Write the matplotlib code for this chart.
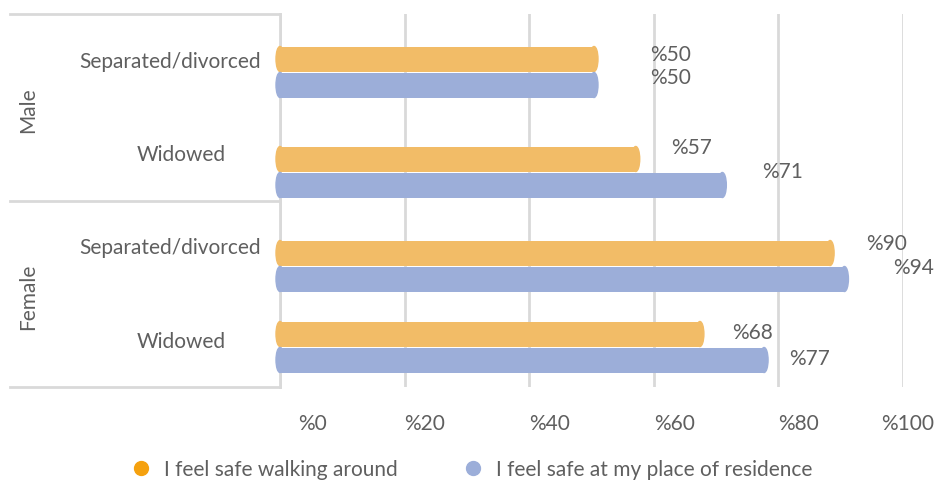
import numpy as np
import matplotlib.pyplot as plt
from matplotlib.patches import Ellipse
from matplotlib.lines import Line2D
from matplotlib.transforms import ScaledTranslation

# categories, top to bottom
groups = ['Male', 'Female']
categories = ['Separated/divorced', 'Widowed', 'Separated/divorced', 'Widowed']
series = ['I feel safe walking around', 'I feel safe at my place of residence']

# bar lengths as drawn, and the labels printed next to them
walking = [50.4, 57.1, 88.3, 67.4]
residence = [50.4, 71.0, 90.6, 77.7]
walking_labels = ['%50', '%57', '%90', '%68']
residence_labels = ['%50', '%71', '%94', '%77']
xticks = [0, 20, 40, 60, 80, 100]
xtick_labels = ['%0', '%20', '%40', '%60', '%80', '%100']

# layout (pixels of the 934x485 picture)
W, H = 934, 485
ax_l, ax_r, ax_t, ax_b = 280, 903, 15, 388
pair_y = [73, 173, 267, 348]
cat_label_x = [170, 181, 170, 181]
cat_label_y = [62, 155, 248, 342]
group_label_y = [110, 297]
walk_dx = [56, 35, 36, 32]
walk_dy = [5, 12, 10, 2]
res_dx = [56, 40, 49, 25]
res_dy = [8, 14, 12, 2]

c_walk = '#F2BC67'
c_res = '#9CAED9'
c_grid = '#D9D9D9'
c_text = '#5f5f5f'
fs = 15

plt.rcParams['font.family'] = ['Lato', 'DejaVu Sans']

fig = plt.figure(figsize=(W / 100, H / 100), dpi=100)
ax = fig.add_axes([ax_l / W, 1 - ax_b / H, (ax_r - ax_l) / W, (ax_b - ax_t) / H])
ax.set_xlim(0, 100)
ax.set_ylim(ax_b, ax_t)

bh = 25
cap_w = 8 / ((ax_r - ax_l) / 100)
for vals, off, col in [(walking, -13, c_walk), (residence, 13, c_res)]:
    ys = np.array(pair_y) + off
    ax.barh(ys, vals, height=bh, color=col, zorder=3)
    for v, y in zip(vals, ys):
        ax.add_patch(Ellipse((0, y), cap_w, bh, color=col, zorder=3, clip_on=False))
        ax.add_patch(Ellipse((v, y), cap_w, bh, color=col, zorder=3, clip_on=False))

for vals, labs, dxs, dys, off in [(walking, walking_labels, walk_dx, walk_dy, -13),
                                  (residence, residence_labels, res_dx, res_dy, 13)]:
    for v, lab, dx, dy, y in zip(vals, labs, dxs, dys, pair_y):
        ax.annotate(lab, (v, y + off), xytext=(dx, dy), textcoords='offset pixels',
                    ha='left', va='center', fontsize=fs, color=c_text)

ax.set_xticks(xticks)
ax.set_xticklabels(xtick_labels, fontsize=fs, color=c_text)
ax.set_yticks([])
ax.tick_params(axis='x', length=0, pad=19)
ax.grid(axis='x', color=c_grid, linewidth=2, zorder=0)
for s in ['top', 'right', 'bottom']:
    ax.spines[s].set_visible(False)
ax.spines['left'].set_color(c_grid)
ax.spines['left'].set_linewidth(2)
ax.spines['left'].set_zorder(1)

# shift tick labels so they sit like the original
tls = ax.get_xticklabels()
for i, t in enumerate(tls):
    t.set_horizontalalignment('left')
    if i == 0:
        t.set_transform(t.get_transform() + ScaledTranslation(18 / 100, 0, fig.dpi_scale_trans))
    if i == len(tls) - 1:
        t.set_transform(t.get_transform() + ScaledTranslation(-22 / 100, 0, fig.dpi_scale_trans))

# left-hand table lines
for yy in [ax_t, (ax_t + ax_b) / 2, ax_b]:
    fig.add_artist(Line2D([10 / W, ax_l / W], [1 - yy / H, 1 - yy / H],
                          color=c_grid, linewidth=2))

for lab, xx, yy in zip(categories, cat_label_x, cat_label_y):
    fig.text(xx / W, 1 - yy / H, lab, ha='center', va='center', fontsize=fs, color=c_text)
for lab, yy in zip(groups, group_label_y):
    fig.text(28 / W, 1 - yy / H, lab, ha='center', va='center', rotation=90,
             fontsize=fs, color=c_text)

handles = [Line2D([], [], marker='o', linestyle='', color='#F5A10F', markersize=10),
           Line2D([], [], marker='o', linestyle='', color=c_res, markersize=10)]
leg = fig.legend(handles, series, loc='center', bbox_to_anchor=(0.505, 1 - 470 / H),
                 ncol=2, frameon=False, fontsize=fs, handlelength=1,
                 handletextpad=0.6, columnspacing=3.1)
for t in leg.get_texts():
    t.set_color(c_text)

fig.savefig('out.png', dpi=100)
